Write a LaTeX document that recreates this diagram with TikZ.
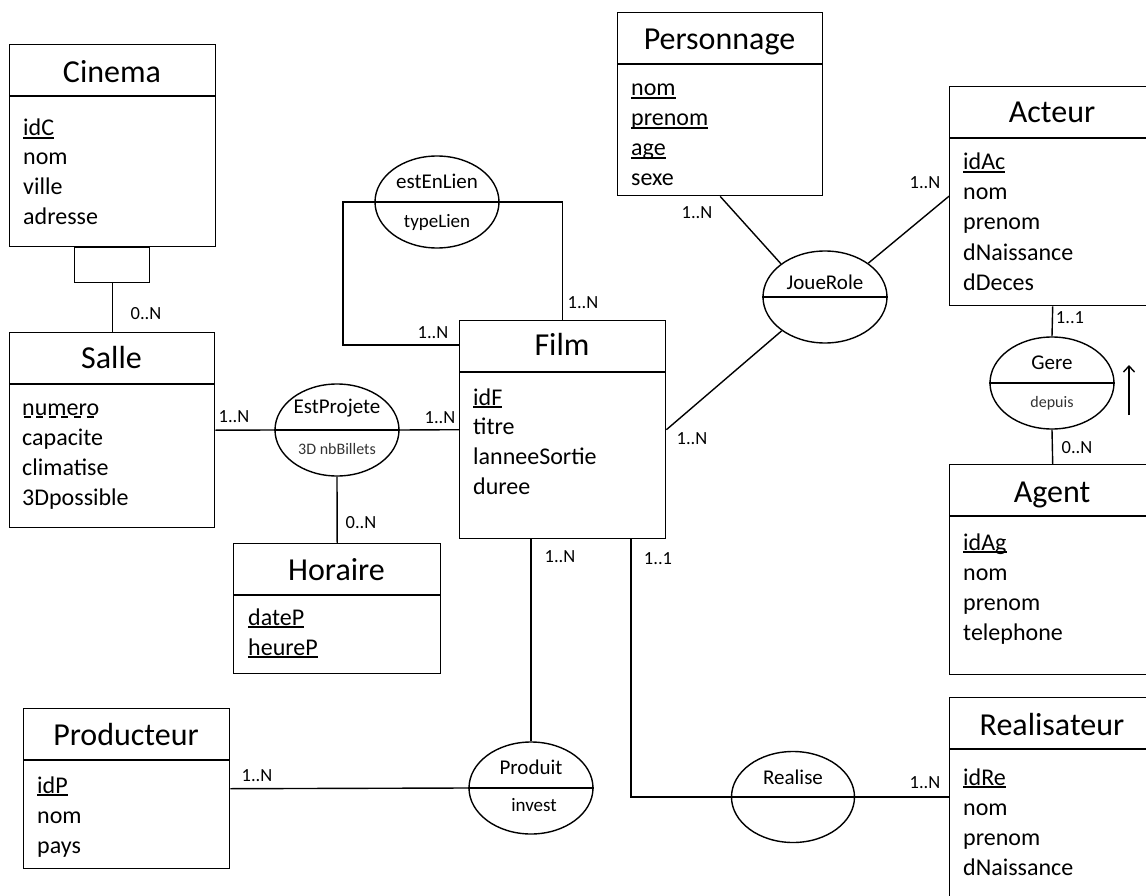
\documentclass[tikz,border=0pt]{standalone}
\usepackage{fontspec}
\setmainfont{Carlito}
\usetikzlibrary{shapes.geometric,arrows.meta}
\newcommand\pk[1]{\setbox0\hbox{#1}\rlap{\rule[-2.6pt]{\wd0}{1.3pt}}\box0}
\newcommand\pkd[1]{\setbox0\hbox{#1}\rlap{\hbox to\wd0{\xleaders\hbox{\rule[-2.6pt]{7pt}{1.2pt}\hskip4pt}\hfill}}\box0}
\tikzset{
  conn/.style={line width=1.4pt},
  entitybox/.style={draw, line width=1.4pt, rectangle, inner sep=0pt},
  titletext/.style={inner sep=0pt, font=\fontsize{32}{38}\selectfont},
  attr/.style={inner sep=0pt, anchor=base west, font=\fontsize{24}{29}\selectfont},
  assoc/.style={ellipse, draw, line width=1.4pt, minimum width=124pt, minimum height=92pt, inner sep=0pt},
  assoctext/.style={inner sep=0pt, font=\fontsize{21}{25}\selectfont},
  smalltext/.style={inner sep=0pt, text=black!80, font=\fontsize{16}{19}\selectfont},
  medtext/.style={inner sep=0pt, font=\fontsize{19}{23}\selectfont},
  card/.style={inner sep=0pt, font=\fontsize{18.5}{22}\selectfont},
}
\newcommand\mkentity[7]{%
  \node[entitybox, minimum width=#4pt, minimum height=#5pt, anchor=north west] (#1) at (#2,#3) {};
  \draw[conn] ([yshift=-52pt]#1.north west) -- ([yshift=-52pt]#1.north east);
  \node[titletext, anchor=base] (#1-title) at (#2+#4/2,#7) {#6};
}
\begin{document}
\begin{tikzpicture}[x=1pt,y=-1pt]
\useasboundingbox (0,0) rectangle (1146,896);
\fill[white] (0,0) rectangle (1146,896);
\clip (0,0) rectangle (1146,896);

% ---------- Cinema
\mkentity{cin}{9}{44}{206}{202}{Cinema}{83}
\node[attr] (cin-a1) at (23,136) {\pk{idC}};
\node[attr] (cin-a2) at (23,165) {nom};
\node[attr] (cin-a3) at (23,195) {ville};
\node[attr] (cin-a4) at (23,225) {adresse};
\node[entitybox, minimum width=75pt, minimum height=35pt, anchor=north west] (cinw) at (74,247) {};

% ---------- Salle
\mkentity{sal}{9}{332}{205}{195}{Salle}{368}
\node[attr] (sal-a1) at (22,415) {\pkd{numero}};
\node[attr] (sal-a2) at (22,445) {capacite};
\node[attr] (sal-a3) at (22,475) {climatise};
\node[attr] (sal-a4) at (22,505) {3Dpossible};
\draw[conn] (cinw.south) -- (sal.north);
\node[card] (k-cs) at (146,314) {0..N};

% ---------- Horaire
\mkentity{hor}{233}{543}{207}{130}{Horaire}{580}
\node[attr] (hor-a1) at (248,625) {\pk{dateP}};
\node[attr] (hor-a2) at (248,655) {\pk{heureP}};

% ---------- Film
\mkentity{film}{459}{320}{206}{218}{Film}{355}
\node[attr] (film-a1) at (473,405) {\pk{idF}};
\node[attr] (film-a2) at (473,434) {titre};
\node[attr] (film-a3) at (473,464) {lanneeSortie};
\node[attr] (film-a4) at (473,494) {duree};

% ---------- Personnage
\mkentity{pers}{617}{12}{205}{183}{Personnage}{50}
\node[attr] (pers-a1) at (631,96) {\pk{nom}};
\node[attr] (pers-a2) at (631,126) {\pk{prenom}};
\node[attr] (pers-a3) at (631,156) {\pk{age}};
\node[attr] (pers-a4) at (631,186) {sexe};

% ---------- Acteur
\mkentity{act}{949}{86}{206}{219}{Acteur}{123}
\node[attr] (act-a1) at (963,170) {\pk{idAc}};
\node[attr] (act-a2) at (963,200) {nom};
\node[attr] (act-a3) at (963,230) {prenom};
\node[attr] (act-a4) at (963,260) {dNaissance};
\node[attr] (act-a5) at (963,290) {dDeces};

% ---------- Agent
\mkentity{agt}{949}{464}{206}{210}{Agent}{502}
\node[attr] (agt-a1) at (963,550) {\pk{idAg}};
\node[attr] (agt-a2) at (963,580) {nom};
\node[attr] (agt-a3) at (963,610) {prenom};
\node[attr] (agt-a4) at (963,640) {telephone};

% ---------- Realisateur
\mkentity{rea}{949}{697}{206}{230}{Realisateur}{735}
\node[attr] (rea-a1) at (963,785) {\pk{idRe}};
\node[attr] (rea-a2) at (963,815) {nom};
\node[attr] (rea-a3) at (963,845) {prenom};
\node[attr] (rea-a4) at (963,875) {dNaissance};

% ---------- Producteur
\mkentity{prod}{23}{708}{206}{160}{Producteur}{745}
\node[attr] (prod-a1) at (37,793) {\pk{idP}};
\node[attr] (prod-a2) at (37,823) {nom};
\node[attr] (prod-a3) at (37,853) {pays};

% ---------- EstProjete
\node[assoc] (ep) at (337,430) {};
\draw[conn] (ep.west) -- (ep.east);
\node[assoctext] (ep-n) at (337,408) {EstProjete};
\node[smalltext] (ep-a) at (337,449) {3D nbBillets};
\draw[conn] (sal.east) -- (ep.west);
\draw[conn] (ep.east) -- (film.west);
\draw[conn] (ep.south) -- (hor.north);
\node[card] (k-se) at (234,417) {1..N};
\node[card] (k-ef) at (440,418) {1..N};
\node[card] (k-eh) at (361,523) {0..N};

% ---------- estEnLien
\node[assoc] (eel) at (437,202) {};
\draw[conn] (eel.west) -- (eel.east);
\node[assoctext] (eel-n) at (437,181) {estEnLien};
\node[medtext] (eel-a) at (437,222) {typeLien};
\coordinate (loopA) at (343,202);
\coordinate (loopB) at (343,345);
\coordinate (filmL) at (459,345);
\draw[conn] (eel.west) -- (loopA) -- (loopB) -- (filmL);
\draw[conn] (eel.east) -| (film.north);
\node[card] (k-l1) at (433,333) {1..N};
\node[card] (k-l2) at (583,303) {1..N};

% ---------- JoueRole
\node[assoc] (jr) at (825,297) {};
\draw[conn] (jr.west) -- (jr.east);
\node[assoctext] (jr-n) at (825,282) {JoueRole};
\draw[conn] (pers.south) -- (jr.143);
\draw[conn] (act.west) -- (jr.38);
\draw[conn] (film.east) -- (jr.218);
\node[card] (k-pj) at (697,213) {1..N};
\node[card] (k-aj) at (925,183) {1..N};
\node[card] (k-fj) at (692,439) {1..N};

% ---------- Gere
\node[assoc] (gere) at (1052,383) {};
\draw[conn] (gere.west) -- (gere.east);
\node[assoctext] (gere-n) at (1052,363) {Gere};
\node[smalltext] (gere-a) at (1052,403) {depuis};
\draw[conn] (act.south) -- (gere.north);
\draw[conn] (gere.south) -- (agt.north);
\node[card] (k-ag) at (1070,318) {1..1};
\node[card] (k-ga) at (1077,448) {0..N};
\coordinate (arrA) at (1129,415);
\coordinate (arrB) at (1129,365);
\draw[conn, -{Straight Barb[length=6pt,width=11pt]}] (arrA) -- (arrB);

% ---------- Produit
\node[assoc] (pr) at (531,788) {};
\draw[conn] (pr.west) -- (pr.east);
\node[assoctext] (pr-n) at (531,767) {Produit};
\node[medtext] (pr-a) at (534,805) {invest};
\coordinate (filmP) at (531,538);
\draw[conn] (filmP) -- (pr.north);
\draw[conn] (prod.east) -- (pr.west);
\node[card] (k-fp) at (560,557) {1..N};
\node[card] (k-pp) at (257,776) {1..N};

% ---------- Realise
\node[assoc, minimum width=123pt, minimum height=91pt] (re) at (793,797) {};
\draw[conn] (re.west) -- (re.east);
\node[assoctext] (re-n) at (793,777) {Realise};
\coordinate (filmR) at (631,538);
\draw[conn] (filmR) |- (re.west);
\draw[conn] (re.east) -- (re.east -| rea.west);
\node[card] (k-fr) at (658,559) {1..1};
\node[card] (k-rr) at (925,783) {1..N};
\end{tikzpicture}
\end{document}
